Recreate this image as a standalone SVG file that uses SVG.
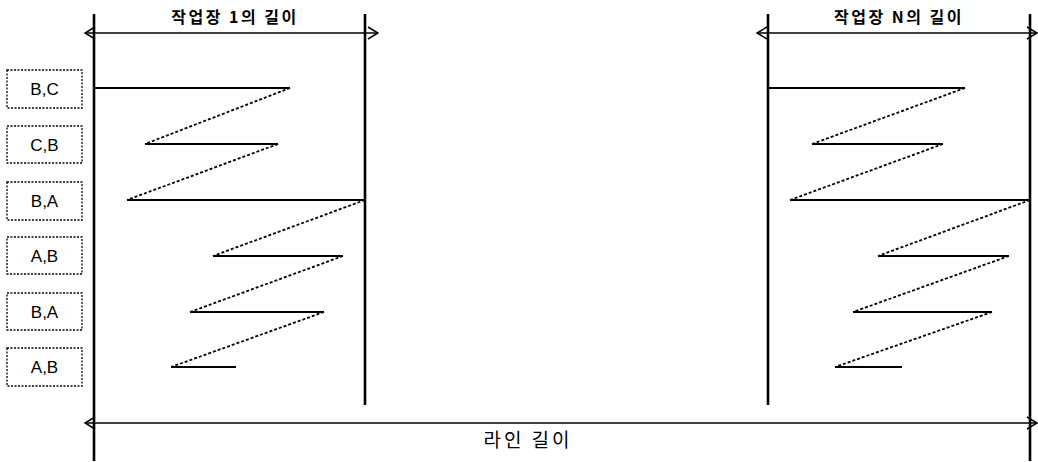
<svg xmlns="http://www.w3.org/2000/svg" width="1038" height="462" viewBox="0 0 1038 462">
<style>
.box{fill:#fff;stroke:#000;stroke-width:1.3;stroke-dasharray:2 1.5}
.bl{font-family:"Liberation Sans",Arial,sans-serif;font-size:17px;text-anchor:middle;fill:#000}
.ttl{font-family:"Noto Sans CJK KR","Noto Sans",sans-serif;font-size:16px;font-weight:bold;text-anchor:middle;fill:#000;letter-spacing:2.5px}
.vl{stroke:#000;stroke-width:2.6;fill:none}
.dim{stroke:#000;stroke-width:1.6;fill:none}
.sol{stroke:#000;stroke-width:1.8;fill:none}
.dsh{stroke:#000;stroke-width:1.8;fill:none;stroke-dasharray:3 2}
</style>
<defs>
<marker id="ah" viewBox="0 0 12 14" refX="11" refY="7" markerWidth="12" markerHeight="14" markerUnits="userSpaceOnUse" orient="auto-start-reverse">
<path d="M1,1 L11,7 L1,13" fill="none" stroke="#000" stroke-width="1.5"/>
</marker>
</defs>
<g id="frame">
<line class="vl" x1="94" y1="14" x2="94" y2="461"/>
<line class="vl" x1="365" y1="14" x2="365" y2="405"/>
<line class="vl" x1="768" y1="14" x2="768" y2="405"/>
<line class="vl" x1="1030" y1="14" x2="1030" y2="461"/>
</g>
<g id="connectors">
<line class="dim" x1="85" y1="33" x2="378" y2="33" marker-start="url(#ah)" marker-end="url(#ah)"/>
<line class="dim" x1="757" y1="33" x2="1037" y2="33" marker-start="url(#ah)" marker-end="url(#ah)"/>
<line class="dim" x1="85" y1="423" x2="1037" y2="423" marker-start="url(#ah)" marker-end="url(#ah)"/>
<g id="zigzag-1">
<line class="sol" x1="94" y1="88" x2="290" y2="88"/>
<line class="dsh" x1="290" y1="88" x2="145" y2="144"/>
<line class="sol" x1="145" y1="144" x2="278" y2="144"/>
<line class="dsh" x1="278" y1="144" x2="127" y2="200"/>
<line class="sol" x1="127" y1="200" x2="365" y2="200"/>
<line class="dsh" x1="365" y1="200" x2="213" y2="256"/>
<line class="sol" x1="213" y1="256" x2="343" y2="256"/>
<line class="dsh" x1="343" y1="256" x2="190" y2="312"/>
<line class="sol" x1="190" y1="312" x2="324" y2="312"/>
<line class="dsh" x1="324" y1="312" x2="171" y2="367"/>
<line class="sol" x1="171" y1="367" x2="236" y2="367"/>
</g>
<g id="zigzag-n">
<line class="sol" x1="768" y1="88" x2="965" y2="88"/>
<line class="dsh" x1="965" y1="88" x2="812" y2="144"/>
<line class="sol" x1="812" y1="144" x2="943" y2="144"/>
<line class="dsh" x1="943" y1="144" x2="790" y2="200"/>
<line class="sol" x1="790" y1="200" x2="1030" y2="200"/>
<line class="dsh" x1="1030" y1="200" x2="878" y2="256"/>
<line class="sol" x1="878" y1="256" x2="1009" y2="256"/>
<line class="dsh" x1="1009" y1="256" x2="853" y2="312"/>
<line class="sol" x1="853" y1="312" x2="992" y2="312"/>
<line class="dsh" x1="992" y1="312" x2="835" y2="367"/>
<line class="sol" x1="835" y1="367" x2="902" y2="367"/>
</g>
</g>
<g id="label-ws1"><text class="ttl" x="235" y="23">작업장 1의 길이</text></g>
<g id="label-wsn"><text class="ttl" x="899" y="23">작업장 N의 길이</text></g>
<g id="label-line"><text class="ttl" x="528" y="447" style="font-size:19px;font-weight:normal;letter-spacing:3px">라인 길이</text></g>
<g id="box1"><rect class="box" x="7" y="70" width="75" height="38"/><text class="bl" x="44.5" y="95">B,C</text></g>
<g id="box2"><rect class="box" x="7" y="126" width="75" height="37"/><text class="bl" x="44.5" y="151">C,B</text></g>
<g id="box3"><rect class="box" x="7" y="182" width="75" height="38"/><text class="bl" x="44.5" y="207">B,A</text></g>
<g id="box4"><rect class="box" x="7" y="237" width="75" height="37"/><text class="bl" x="44.5" y="262">A,B</text></g>
<g id="box5"><rect class="box" x="7" y="293" width="75" height="37"/><text class="bl" x="44.5" y="318">B,A</text></g>
<g id="box6"><rect class="box" x="7" y="348" width="75" height="38"/><text class="bl" x="44.5" y="373">A,B</text></g>
</svg>
